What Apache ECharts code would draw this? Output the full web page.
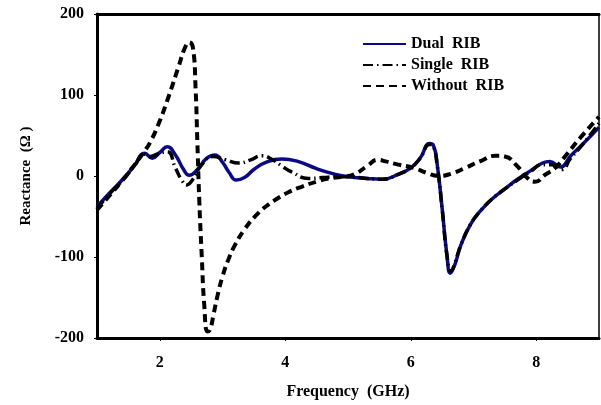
<!DOCTYPE html>
<html>
<head>
<meta charset="utf-8">
<script src="https://cdn.jsdelivr.net/npm/echarts@6/dist/echarts.min.js"></script>
<style>html,body{margin:0;padding:0;background:#fff;}#c{width:601px;height:405px;}</style>
</head>
<body>
<div id="c"></div>
<script>
const seriesNames = ['Dual  RIB', 'Single  RIB', 'Without  RIB'];
const xTicks = [2, 4, 6, 8];

const dualFreq = [1.0,1.2,1.4,1.6,1.76,1.88,2.0,2.12,2.25,2.38,2.47,2.6,2.75,2.88,3.0,3.1,3.22,3.35,3.5,3.7,3.95,4.2,4.5,4.8,5.0,5.3,5.55,5.8,6.0,6.15,6.3,6.36,6.42,6.5,6.58,6.63,6.7,6.8,6.95,7.1,7.3,7.5,7.7,7.9,8.1,8.22,8.38,8.55,8.75,9.0];
const dualVal  = [-38,-21,-5,13,28,22,29,36,26,8,1,8,22,26,17,5,-5,-2,8,17,21,18,9,2,-1,-3,-4,2,10,22,40,38,15,-40,-100,-120,-110,-85,-60,-44,-28,-16,-4,6,16,18,11,25,40,60];

const singleFreq = [1.0,1.2,1.4,1.6,1.75,1.85,1.95,2.12,2.25,2.35,2.43,2.52,2.65,2.85,3.05,3.26,3.45,3.63,3.8,3.95,4.1,4.37,4.6,4.8,5.0,5.3,5.55,5.8,6.0,6.15,6.3,6.36,6.42,6.5,6.58,6.64,6.7,6.8,6.95,7.1,7.3,7.5,7.7,7.9,8.1,8.25,8.4,8.55,8.75,9.0];
const singleVal  = [-40,-22,-6,13,27,24,27,30,10,-5,-11,-5,12,24,20,16,20,25,20,12,5,-3,-2,-1,-1,-3,-4,2,10,22,39,37,14,-40,-100,-118,-108,-85,-60,-44,-28,-16,-5,5,14,14,8,22,40,65];

const withoutFreq = [1.0,1.2,1.4,1.6,1.75,1.85,2.0,2.15,2.3,2.4,2.47,2.53,2.57,2.6,2.63,2.67,2.71,2.76,2.8,2.86,2.92,3.0,3.1,3.2,3.35,3.53,3.7,3.85,4.05,4.27,4.5,4.7,4.9,5.1,5.3,5.48,5.6,5.8,6.05,6.25,6.45,6.65,6.87,7.1,7.35,7.5,7.7,7.85,7.98,8.15,8.3,8.5,8.7,9.0];
const withoutVal  = [-42,-24,-6,14,30,42,68,100,135,158,165,158,110,40,-30,-100,-160,-192,-190,-170,-148,-124,-102,-85,-66,-49,-37,-29,-20,-13,-7,-3,-1,2,12,20,18,14,10,4,0,3,10,18,25,24,12,-2,-7,2,10,28,47,73];

const pairs = (xs, ys) => xs.map((x, i) => [x, ys[i]]);
const font = 'Liberation Serif';

const chart = echarts.init(document.getElementById('c'), null, {renderer: 'canvas'});
chart.setOption({
  backgroundColor: '#fff',
  animation: false,
  grid: {left: 97, right: 2, top: 14, bottom: 67, show: true, borderColor: '#000', borderWidth: 1.5},
  legend: {
    orient: 'vertical', left: 357, top: 31, itemWidth: 43, itemHeight: 14, itemGap: 5,
    itemStyle: {opacity: 0},
    textStyle: {fontFamily: font, fontWeight: 'bold', fontSize: 16, color: '#000'},
    data: seriesNames
  },
  xAxis: [{
    type: 'value', min: 1, max: 9,
    name: 'Frequency  (GHz)', nameLocation: 'middle', nameGap: 46,
    nameTextStyle: {fontFamily: font, fontWeight: 'bold', fontSize: 16, color: '#000'},
    axisLine: {show: true, onZero: false, lineStyle: {color: '#000', width: 3}},
    axisTick: {show: true, inside: false, length: 3, customValues: xTicks, lineStyle: {color: '#000', width: 1}},
    axisLabel: {customValues: xTicks, margin: 17, fontFamily: font, fontWeight: 'bold', fontSize: 16, color: '#000'},
    splitLine: {show: false}
  }, {
    type: 'value', min: 1, max: 9, position: 'top',
    axisLine: {show: true, onZero: false, lineStyle: {color: '#000', width: 3}},
    axisTick: {show: false}, axisLabel: {show: false}, splitLine: {show: false}
  }],
  yAxis: {
    type: 'value', min: -200, max: 200, interval: 100,
    name: 'Reactance  (Ω )', nameLocation: 'middle', nameGap: 63,
    nameTextStyle: {fontFamily: font, fontWeight: 'bold', fontSize: 15, color: '#000'},
    axisLine: {show: true, onZero: false, lineStyle: {color: '#000', width: 3}},
    axisTick: {show: true, inside: false, length: 3, lineStyle: {color: '#000', width: 1}},
    axisLabel: {margin: 13, fontFamily: font, fontWeight: 'bold', fontSize: 16, color: '#000'},
    splitLine: {show: false}
  },
  series: [{
    name: seriesNames[0], type: 'line', data: pairs(dualFreq, dualVal),
    smooth: 0.5, showSymbol: false, symbol: 'none',
    lineStyle: {color: '#0a0a86', width: 3.5}, itemStyle: {color: '#0a0a86'}, z: 2
  }, {
    name: seriesNames[1], type: 'line', data: pairs(singleFreq, singleVal),
    smooth: 0.5, showSymbol: false, symbol: 'none',
    lineStyle: {color: '#000', width: 3.5, type: [10, 4, 1.5, 4]}, itemStyle: {color: '#000'}, z: 3
  }, {
    name: seriesNames[2], type: 'line', data: pairs(withoutFreq, withoutVal),
    smooth: 0.5, showSymbol: false, symbol: 'none',
    lineStyle: {color: '#000', width: 4, type: [8, 5]}, itemStyle: {color: '#000'}, z: 4
  }]
});
</script>
</body>
</html>
